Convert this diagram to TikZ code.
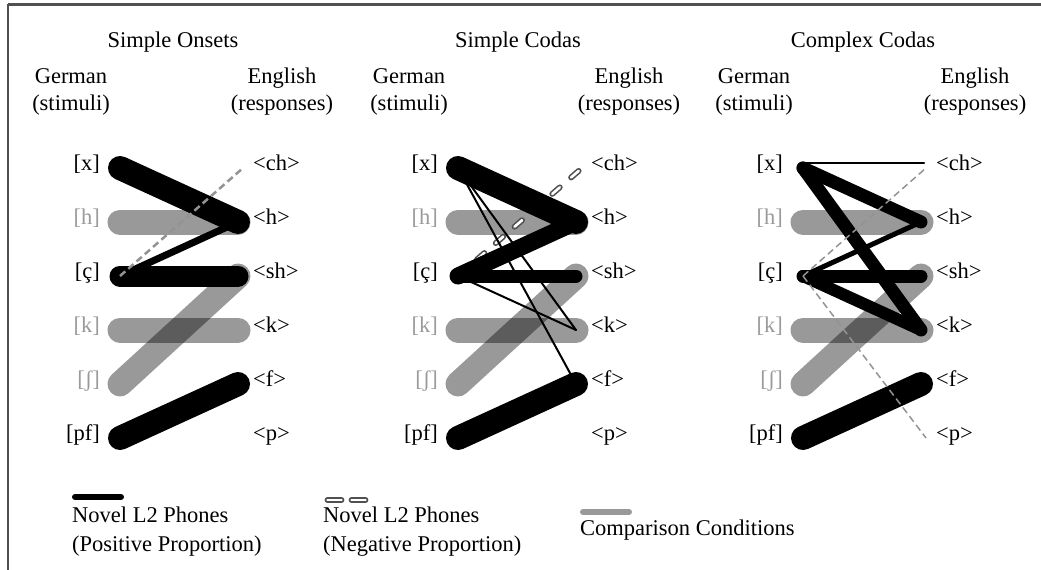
\documentclass[tikz,border=0pt]{standalone}
\usepackage{fontspec}
\setmainfont{Liberation Serif}
\usepackage{tikz}
\usetikzlibrary{positioning}
\definecolor{lblgray}{HTML}{9A9A9A}
\definecolor{framegray}{HTML}{505050}
\definecolor{negdark}{HTML}{505050}
\definecolor{trendgray}{HTML}{939393}

\tikzset{
  paneltitle/.style={inner sep=0pt, anchor=base},
  head/.style={inner sep=0pt, anchor=north, align=center},
  phone/.style={inner sep=0pt, text height=0.7em, text depth=0.22em},
  posline/.style={draw=black, line width=#1, line cap=round},
  cmpline/.style={draw=black, draw opacity=0.4, line width=25pt, line cap=round},
  negline/.style={draw=negdark, double=white, double distance=2.6pt, line width=1.6pt,
                  line cap=round, dash pattern=on 10pt off 15pt},
  trend/.style={draw=trendgray, line width=#1, dash pattern=on 7pt off 4pt},
  legend/.style={inner sep=0pt, align=left, anchor=north west,
                 font=\fontsize{22.5}{29}\selectfont},
}

\begin{document}
\begin{tikzpicture}[x=1pt, y=-1pt, font=\fontsize{22.5}{27}\selectfont]
    \useasboundingbox (0,0) rectangle (1041,570);
    % frame (cut off at right and bottom)
    \draw[framegray, line width=3pt] (8,4) -- (1041,4);
    \draw[framegray, line width=1.8pt] (8,4) -- (8,570);

    % the three panels: titles, headers, phones
    \foreach \p/\dx/\name/\tx/\ex in {o/0/Simple Onsets/173/282,
                                      c/338/Simple Codas/180/291,
                                      k/683/Complex Codas/180/292}{
      \begin{scope}[xshift=\dx pt]
        \node[paneltitle] (\p-title) at (\tx,47) {\name};
        \node[head] (\p-de) at (71,68) {German\\(stimuli)};
        \node[head] (\p-en) at (\ex,68) {English\\(responses)};
        \foreach \g/\gt/\gc/\e/\et [count=\i from 0] in {x/{[x]}/black/ch/{<ch>},
                                                          h/{[h]}/lblgray/h/{<h>},
                                                          c/{[ç]}/black/sh/{<sh>},
                                                          k/{[k]}/lblgray/k/{<k>},
                                                          sh/{[ʃ]}/lblgray/f/{<f>},
                                                          pf/{[pf]}/black/p/{<p>}}{
          \coordinate (\p-g\g) at (120,168+54*\i);
          \coordinate (\p-e\e) at (238,168+54*\i);
          \node[phone, text=\gc, left=20pt of \p-g\g] (\p-g\g-txt) {\gt};
          \node[phone, right=15pt of \p-e\e] (\p-e\e-txt) {\et};
        }
      \end{scope}
    }

    % Simple Onsets
    \draw[cmpline] (o-gh) -- (o-eh);
    \draw[cmpline] (o-gk) -- (o-ek);
    \draw[cmpline] (o-gsh) -- (o-esh);
    \draw[posline=24pt] (o-gx) -- (o-eh);
    \draw[posline=7pt] (o-eh) -- (o-gc);
    \draw[posline=21pt] (o-gc) -- (o-esh);
    \draw[posline=24pt] (o-gpf) -- (o-ef);
    \draw[trend=2.5pt] (o-gc) -- ([xshift=5pt]o-ech);

    % Simple Codas
    \draw[cmpline] (c-gh) -- (c-eh);
    \draw[cmpline] (c-gk) -- (c-ek);
    \draw[cmpline] (c-gsh) -- (c-esh);
    \draw[negline] (c-gc) -- ([xshift=6pt]c-ech);
    \draw[posline=24pt] (c-gx) -- (c-eh);
    \draw[posline=17pt] (c-eh) -- (c-gc);
    \draw[posline=13pt] (c-gc) -- (c-esh);
    \draw[posline=2pt] (c-gx) -- (c-ek);
    \draw[posline=2pt] (c-gx) -- (c-ef);
    \draw[posline=2pt] (c-gc) -- (c-ek);
    \draw[posline=24pt] (c-gpf) -- (c-ef);

    % Complex Codas
    \draw[cmpline] (k-gh) -- (k-eh);
    \draw[cmpline] (k-gk) -- (k-ek);
    \draw[cmpline] (k-gsh) -- (k-esh);
    \draw[posline=2pt] ([yshift=5pt]k-gx) -- ([xshift=3pt, yshift=5pt]k-ech);
    \draw[posline=13pt] (k-gx) -- (k-eh);
    \draw[posline=13pt] (k-gx) -- (k-ek);
    \draw[posline=5pt] (k-eh) -- (k-gc);
    \draw[posline=13pt] (k-gc) -- (k-esh);
    \draw[posline=12pt] (k-gc) -- (k-ek);
    \draw[posline=24pt] (k-gpf) -- (k-ef);
    \draw[trend=1.5pt] (k-gc) -- ([xshift=5pt]k-ech);
    \draw[trend=1.5pt] (k-gc) -- ([xshift=5pt]k-ep);

    % legend
    \draw[posline=6pt] (75,497) -- (121,497);
    \node[legend] (leg-pos) at (72,507) {Novel L2 Phones\\(Positive Proportion)};
    \draw[negline, dash pattern=on 14pt off 10pt] (327.5,500) -- (366,500);
    \node[legend] (leg-neg) at (323,507) {Novel L2 Phones\\(Negative Proportion)};
    \draw[cmpline, line width=6pt] (583,512) -- (629,512);
    \node[legend, anchor=base west] (leg-cmp) at (580,535) {Comparison Conditions};
\end{tikzpicture}
\end{document}
